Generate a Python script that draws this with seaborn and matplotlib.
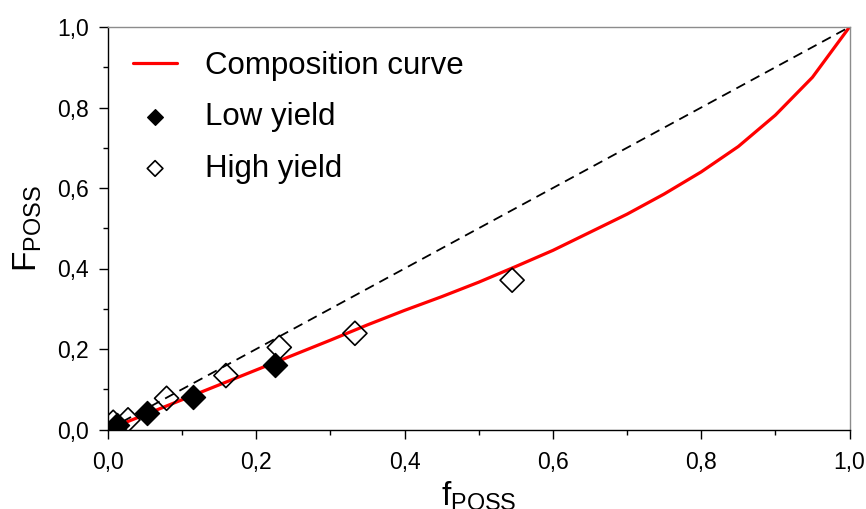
import matplotlib
matplotlib.use("Agg")
import matplotlib.pyplot as plt
import seaborn as sns
import pandas as pd

# Composition curve: polymer fraction F vs. feed fraction f
curve_f = [0.0, 0.05, 0.10, 0.15, 0.20, 0.25, 0.30, 0.35, 0.40, 0.45, 0.50,
           0.55, 0.60, 0.65, 0.70, 0.75, 0.80, 0.85, 0.90, 0.95, 1.0]
curve_F = [0.0, 0.037, 0.074, 0.111, 0.148, 0.185, 0.222, 0.260, 0.296, 0.330, 0.366,
           0.405, 0.445, 0.490, 0.535, 0.585, 0.640, 0.703, 0.781, 0.875, 1.0]

# Ideal (azeotropic) reference line
ideal_f = [0.0, 1.0]
ideal_F = [0.0, 1.0]

# Measured copolymer compositions
low_f = [0.012, 0.052, 0.114, 0.225]
low_F = [0.011, 0.040, 0.081, 0.160]
high_f = [0.007, 0.027, 0.079, 0.159, 0.231, 0.333, 0.545]
high_F = [0.018, 0.024, 0.0775, 0.134, 0.204, 0.239, 0.371]

xticks = [0.0, 0.2, 0.4, 0.6, 0.8, 1.0]
yticks = [0.0, 0.2, 0.4, 0.6, 0.8, 1.0]
tick_labels = ["0,0", "0,2", "0,4", "0,6", "0,8", "1,0"]

sns.set_style("ticks")
plt.rcParams["font.family"] = ["Liberation Sans", "DejaVu Sans"]
plt.rcParams["mathtext.default"] = "regular"
plt.rcParams["text.color"] = "black"
plt.rcParams["axes.labelcolor"] = "black"
plt.rcParams["xtick.color"] = "black"
plt.rcParams["ytick.color"] = "black"

fig = plt.figure(figsize=(8.66, 5.09), dpi=100)
ax = fig.add_axes([108 / 866, 1 - 429.5 / 509, 741.5 / 866, 402.5 / 509])

curve = pd.DataFrame({"f": curve_f, "F": curve_F})
ideal = pd.DataFrame({"f": ideal_f, "F": ideal_F})
low = pd.DataFrame({"f": low_f, "F": low_F})
high = pd.DataFrame({"f": high_f, "F": high_F})

sns.lineplot(data=curve, x="f", y="F", ax=ax, color="#ff0000", lw=2.3,
             sort=False, label="Composition curve", zorder=2)
sns.lineplot(data=ideal, x="f", y="F", ax=ax, color="black", lw=1.3,
             dashes=False, sort=False, label="_nolegend_", zorder=2)
ax.lines[-1].set_dashes((5.5, 3.5))
sns.scatterplot(data=high, x="f", y="F", ax=ax, marker="D", s=150,
                facecolor="none", edgecolor="black", linewidth=1.2,
                label="High yield", zorder=3)
sns.scatterplot(data=low, x="f", y="F", ax=ax, marker="D", s=150,
                color="black", edgecolor="black", linewidth=1.0,
                label="Low yield", zorder=4)

ax.set_xlim(0, 1)
ax.set_ylim(0, 1)
ax.set_xticks(xticks)
ax.set_xticklabels(tick_labels)
ax.set_yticks(yticks)
ax.set_yticklabels(tick_labels)
ax.set_xticks([0.1, 0.3, 0.5, 0.7, 0.9], minor=True)
ax.set_yticks([0.1, 0.3, 0.5, 0.7, 0.9], minor=True)
ax.tick_params(which="major", direction="out", length=6.5, width=1.0,
               color="black", labelsize=16.5, labelcolor="black")
ax.tick_params(which="minor", direction="out", length=3.5, width=1.0, color="black")
ax.tick_params(axis="x", which="major", pad=9)
ax.tick_params(axis="y", which="major", pad=7)

for side in ("left", "bottom"):
    ax.spines[side].set_color("black")
    ax.spines[side].set_linewidth(1.0)
for side in ("top", "right"):
    ax.spines[side].set_visible(True)
    ax.spines[side].set_color("#8c8c8c")
    ax.spines[side].set_linewidth(1.0)

ax.set_xlabel(r"$\mathregular{f_{POSS}}$", fontsize=24, labelpad=4, color="black")
ax.set_ylabel(r"$\mathregular{F_{POSS}}$", fontsize=24, labelpad=10, color="black")

handles, labels = ax.get_legend_handles_labels()
order = [labels.index(n) for n in ("Composition curve", "Low yield", "High yield")]
ax.legend([handles[i] for i in order], [labels[i] for i in order],
          loc="upper left", bbox_to_anchor=(0.034, 0.94), borderaxespad=0,
          borderpad=0, frameon=False, fontsize=22.5, handlelength=1.4,
          handletextpad=0.9, labelspacing=0.68, markerscale=0.65)

fig.savefig("out.png", dpi=100)
